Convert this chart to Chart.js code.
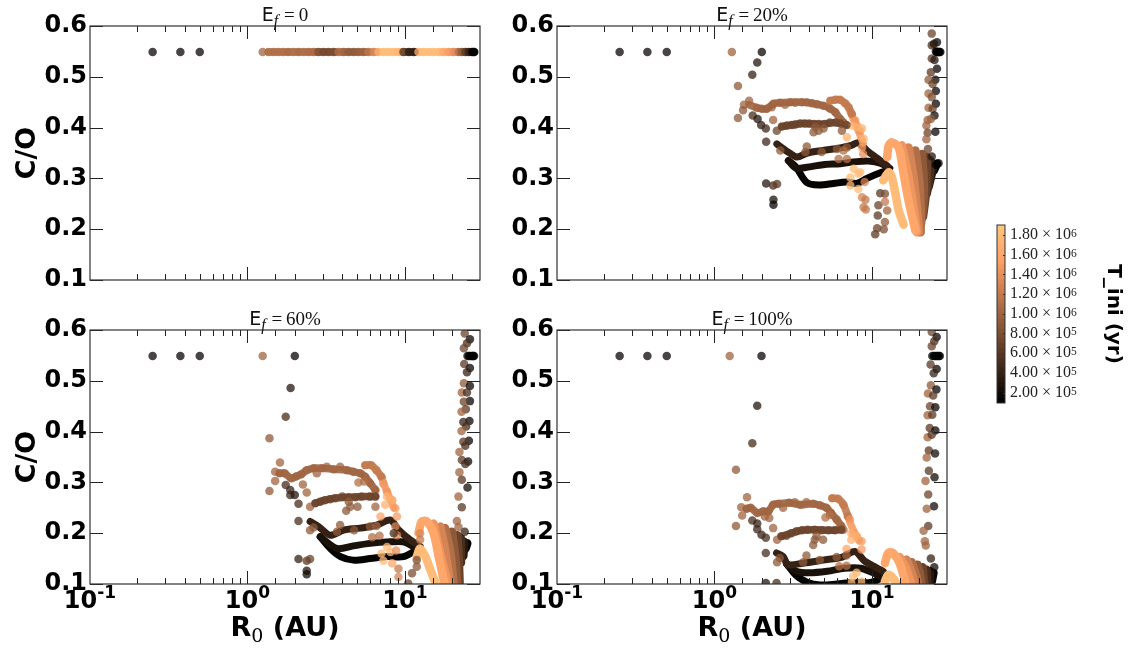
<!DOCTYPE html>
<html>
<head>
<meta charset="utf-8">
<script src="https://cdn.jsdelivr.net/npm/chart.js@4"></script>
<style>
    html, body { margin: 0; padding: 0; background: #fff; }
    body { position: relative; width: 1132px; height: 651px; overflow: hidden; }
    canvas { position: absolute; }
    .title { position: absolute; width: 390px; text-align: center; font: 19px "Liberation Serif", serif; color: #111; line-height: 20px; white-space: nowrap; }
    .title b { font: 19px "DejaVu Sans", sans-serif; }
    .title sub { font: italic 16px "Liberation Serif", serif; line-height: 0; margin-right: 2px; }
    .xlabel { position: absolute; width: 390px; text-align: center; font: bold 27px "DejaVu Sans", sans-serif; color: #000; line-height: 32px; white-space: nowrap; }
    .xlabel sub { font: 19px "DejaVu Serif", serif; line-height: 0; }
</style>
</head>
<body>
<canvas id="ef0" width="490" height="305" style="left:0;top:0"></canvas>
<canvas id="ef20" width="490" height="305" style="left:467px;top:0"></canvas>
<canvas id="ef60" width="490" height="346" style="left:0;top:305px"></canvas>
<canvas id="ef100" width="490" height="346" style="left:467px;top:305px"></canvas>
<canvas id="cbar" width="140" height="210" style="left:990px;top:210px"></canvas>
<div class="title" style="left:90px;top:3px"><b>E</b><sub>f</sub>&#8201;=&#8201;0</div>
<div class="title" style="left:557px;top:3px"><b>E</b><sub>f</sub>&#8201;=&#8201;20%</div>
<div class="title" style="left:90px;top:307px"><b>E</b><sub>f</sub>&#8201;=&#8201;60%</div>
<div class="title" style="left:557px;top:307px"><b>E</b><sub>f</sub>&#8201;=&#8201;100%</div>
<div class="xlabel" style="left:90px;top:611px">R<sub>0</sub> (AU)</div>
<div class="xlabel" style="left:557px;top:611px">R<sub>0</sub> (AU)</div>
<script>
// T_ini is kept in units of 1e5 yr

// E_f = 0
const ef0R = [0.25, 0.375, 0.498, 1.25, 1.36, 1.46, 1.57, 1.69, 1.82, 1.96, 2.11, 2.27, 2.44, 2.63, 2.83, 3.04, 3.27, 3.52, 3.79, 4.07, 4.38, 4.72, 5.07, 5.46, 5.88, 6.33, 6.8, 7.3, 7.87, 8.47, 9.1, 9.8, 10.6, 11.4, 12.2, 13.1, 14.2, 15.2, 16.4, 17.6, 19, 20.4, 22, 23, 24.2, 25.4, 26.6, 27.2, 27.6];
const ef0CO = [0.549, 0.549, 0.549, 0.549, 0.549, 0.549, 0.549, 0.549, 0.549, 0.549, 0.549, 0.549, 0.549, 0.549, 0.549, 0.549, 0.549, 0.549, 0.549, 0.549, 0.549, 0.549, 0.549, 0.549, 0.549, 0.549, 0.549, 0.549, 0.549, 0.549, 0.549, 0.549, 0.549, 0.549, 0.549, 0.549, 0.549, 0.549, 0.549, 0.549, 0.549, 0.549, 0.549, 0.549, 0.549, 0.549, 0.549, 0.549, 0.549];
const ef0T = [1.5, 1.5, 1.5, 10, 11, 11, 11, 11, 10.5, 11, 10.5, 11, 10.5, 10.5, 8, 7.5, 7.5, 8, 11, 10, 9, 9, 9.5, 10, 12, 13, 17, 18, 18, 18, 17, 5, 4, 3.5, 17, 18, 18, 18, 18, 16, 15, 14, 11, 9, 6, 4, 2, 1.2, 1];
const ef0BandR = [[1.36, 2.76], [2.76, 3.6], [3.6, 4.07], [4.07, 5.75], [5.75, 6.63], [6.63, 9.6], [9.6, 10.6], [10.6, 11.6], [11.6, 16.7], [16.7, 19], [19, 20.4], [20.4, 22], [22, 23], [23, 24.2], [24.2, 25.4], [25.4, 26.6], [26.6, 27.6]];
const ef0BandCO = [[0.549, 0.549], [0.549, 0.549], [0.549, 0.549], [0.549, 0.549], [0.549, 0.549], [0.549, 0.549], [0.549, 0.549], [0.549, 0.549], [0.549, 0.549], [0.549, 0.549], [0.549, 0.549], [0.549, 0.549], [0.549, 0.549], [0.549, 0.549], [0.549, 0.549], [0.549, 0.549], [0.549, 0.549]];
const ef0BandT = [10.5, 7.5, 11, 9, 13, 18, 5, 3.5, 18, 16, 14, 11, 9, 6, 4, 2, 1];

// E_f = 20%
const ef20R = [
    0.25, 0.375, 0.498, 1.29, 2.0, 1.87, 1.74, 1.41, 1.66, 1.54, 1.52, 1.41, 1.75, 1.88, 1.98, 2.12, 2.13, 2.36,
    2.13, 2.36, 2.5, 2.37, 2.37,
    1.86, 2.0, 2.15, 2.31,
    2.37, 2.61, 2.81, 3.03, 3.26, 3.59, 3.86, 4.16, 4.47, 4.93, 5.44, 5.86, 6.29, 6.6,
    5.44, 5.86, 6.29, 6.76, 7.11, 7.47, 7.84, 8.03, 8.43,
    7.47, 8.03, 8.66, 8.86, 8.66, 8.8, 6.94,
    2.49, 2.68, 2.88, 3.1, 3.26, 3.5, 3.75, 4, 4.3, 4.6, 5, 5.4, 5.9, 6.3, 6.9,
    4.26, 4.37, 4.93, 4.59, 6.45,
    3.86, 3.78, 4.8, 6, 6.94, 6.6, 6.15, 6.94, 2.62,
    7.67, 8.2, 7.3, 7.3, 8.43, 8.2, 9, 8.66, 9.1, 8.86, 9.15,
    10.5, 10.8, 11.9, 12.1, 10.9, 11, 12.5, 11.3, 12.1, 12.1,
    24, 25.9, 24, 24.8, 25.5, 26, 26.6, 27.2, 24, 25, 25.9, 23.7, 25.3, 22.9, 24.3, 25.5, 22.9, 24, 25.5, 22.9, 24.3, 25, 23.7, 22.6, 22.2, 22.6, 25.3, 22.2, 22.7, 24,
    25.5, 26.5, 25.8, 26.4, 26.9
];
const ef20CO = [
    0.549, 0.549, 0.549, 0.549, 0.549, 0.528, 0.504, 0.482, 0.453, 0.445, 0.434, 0.419, 0.424, 0.417, 0.405, 0.398, 0.372, 0.415,
    0.29, 0.286, 0.289, 0.258, 0.248,
    0.439, 0.437, 0.437, 0.44,
    0.447, 0.449, 0.445, 0.45, 0.449, 0.45, 0.45, 0.448, 0.446, 0.443, 0.437, 0.43, 0.417, 0.41,
    0.453, 0.455, 0.455, 0.448, 0.44, 0.427, 0.414, 0.404, 0.394,
    0.404, 0.401, 0.398, 0.378, 0.361, 0.348, 0.381,
    0.394, 0.402, 0.404, 0.405, 0.406, 0.408, 0.408, 0.408, 0.407, 0.407, 0.407, 0.41, 0.41, 0.408, 0.405,
    0.391, 0.401, 0.398, 0.394, 0.394,
    0.363, 0.352, 0.352, 0.358, 0.361, 0.355, 0.338, 0.338, 0.355,
    0.319, 0.309, 0.302, 0.286, 0.312, 0.279, 0.293, 0.263, 0.258, 0.243, 0.239,
    0.19, 0.202, 0.2, 0.214, 0.227, 0.247, 0.237, 0.271, 0.27, 0.254,
    0.585, 0.568, 0.562, 0.565, 0.55, 0.549, 0.549, 0.549, 0.536, 0.533, 0.516, 0.509, 0.494, 0.494, 0.486, 0.472, 0.467, 0.46, 0.447, 0.439, 0.437, 0.424, 0.417, 0.415, 0.404, 0.39, 0.392, 0.377, 0.358, 0.343,
    0.327, 0.33, 0.549, 0.549, 0.549
];
const ef20T = [
    1.5, 1.5, 1.5, 10, 1.5, 3, 4, 9, 10, 10, 9, 9, 5, 3, 3.5, 4.5, 4.5, 10,
    3, 5, 6, 2.5, 1.5,
    10, 10, 10, 10,
    10, 10, 10, 10, 10, 10, 10, 10, 10, 10, 10, 10, 10, 10,
    12, 12, 12, 12, 12, 12, 14.5, 14.5, 14.5,
    17, 17, 17, 17, 15, 14, 17,
    7, 7, 7, 7, 7, 7, 7, 7, 7, 7, 7, 7, 7, 7, 7,
    9, 9, 9, 9, 9,
    9, 9, 9, 9, 9, 11, 11, 11, 9,
    18, 18, 18, 18, 18, 18, 13, 13, 12, 12, 12,
    6, 7, 8, 9, 6, 7, 10, 6, 8, 12,
    7, 1.5, 5, 3, 1.5, 1, 1, 1, 6, 3, 1.5, 6, 1.5, 9, 7, 1.5, 10, 8, 1.5, 10, 7, 2, 9, 10, 10, 7, 1.5, 10, 7, 3,
    1, 1, 1, 1, 1
];
const ef20BandR = [
    [1.66, 1.86, 2.0, 2.15, 2.37, 2.61, 3.03, 3.59, 4.16, 4.93, 5.44, 5.86, 6.29, 6.6],
    [5.44, 5.86, 6.29, 6.76, 7.11, 7.47],
    [7.3, 7.8, 8.3, 8.8],
    [2.68, 3.1, 3.59, 4.3, 5, 5.9, 6.9]
];
const ef20BandCO = [
    [0.445, 0.439, 0.437, 0.437, 0.447, 0.449, 0.45, 0.45, 0.448, 0.443, 0.437, 0.43, 0.417, 0.41],
    [0.453, 0.455, 0.455, 0.448, 0.44, 0.427],
    [0.43, 0.41, 0.39, 0.37],
    [0.402, 0.405, 0.408, 0.407, 0.407, 0.41, 0.405]
];
const ef20BandT = [10, 12, 15, 7];
const ef20TrackR = [
    [11.8, 12.8, 13.4, 14.1, 14.8, 15.9],
    [12.5, 12.8, 13.4, 14.8, 15.9, 17.1, 18.9],
    [15.5, 17.1, 18.4, 19.3],
    [17.1, 18.4, 19.3, 19.9],
    [18.9, 19.9, 20.4, 20.4],
    [20.8, 21.3, 21.3, 20.5],
    [22.3, 22.3, 21.9, 21.1],
    [23.5, 23.3, 22.3],
    [24.7, 24, 22.9],
    [25.9, 24.7],
    [2.49, 2.75, 3.0, 3.35, 3.9, 4.9, 6.3, 7.4, 8.2, 9.3, 11.3, 12.5],
    [2.95, 3.3, 3.86, 4.9, 6.3, 8, 9.5, 11.3, 13],
    [2.95, 3.3, 3.86, 4.6, 5.7, 6.9, 8, 9.3, 11.3, 12.5]
];
const ef20TrackCO = [
    [0.296, 0.312, 0.302, 0.27, 0.237, 0.209],
    [0.342, 0.365, 0.371, 0.361, 0.309, 0.256, 0.197],
    [0.365, 0.302, 0.243, 0.194],
    [0.361, 0.302, 0.243, 0.194],
    [0.355, 0.302, 0.243, 0.194],
    [0.348, 0.302, 0.256, 0.21],
    [0.342, 0.309, 0.263, 0.224],
    [0.335, 0.302, 0.27],
    [0.329, 0.309, 0.283],
    [0.329, 0.315],
    [0.368, 0.358, 0.35, 0.342, 0.35, 0.355, 0.36, 0.365, 0.37, 0.355, 0.335, 0.325],
    [0.335, 0.32, 0.322, 0.327, 0.329, 0.333, 0.334, 0.33, 0.32],
    [0.335, 0.322, 0.292, 0.287, 0.29, 0.293, 0.29, 0.3, 0.311, 0.315]
];
const ef20TrackT = [18, 16, 14.5, 13, 11, 9, 7, 5, 3, 1.5, 4, 2.5, 1.2];

// E_f = 60%
const ef60R = [
    0.25, 0.375, 0.498, 1.25, 2.0, 1.88, 1.75, 1.38, 1.61, 1.5, 1.5, 1.38, 1.75, 1.87, 1.87, 2, 2.11, 2.11, 2.38, 2.25,
    2.11, 2.38, 2.5, 2.38, 2.38,
    1.6, 1.72, 1.9, 2.05, 2.2,
    2.38, 2.63, 2.76, 2.97, 3.19, 3.52, 3.88, 4.28, 4.7, 5.2, 5.6, 6, 6.5,
    5.6, 6.1, 6.6, 7.1, 5.07, 5.5,
    7.3, 7.7, 8.3, 7.7, 8.3, 7.5, 7, 8.7, 8.9, 8.7, 8.9, 6.5,
    2.5, 2.7, 2.9, 3.1, 3.35, 3.6, 4, 4.4, 4.85, 5.3, 6, 6.5,
    4.24, 4.5, 5, 4.4,
    3.88, 3.7, 4.76, 6, 6.6, 6.2, 6.9, 2.63, 2.5, 8.5,
    7.7, 8.1, 7.1, 7.3, 8.3, 8.8, 9.1, 9.1,
    11.9, 11.9, 11.1, 10.5, 12.5, 12.5,
    24, 25.9, 24.8, 23.7, 25, 26, 27, 27.5, 23.8, 25.9, 24.8, 23.7, 25.9, 23, 24.8, 25.9, 23.7, 24.4, 22.9, 25.7, 23.5, 24.5, 22.9, 25.5, 23.5, 24.2, 22.2, 23, 25.2, 24.2, 22.2, 23, 25, 21.9, 23, 21.4, 21.9, 24,
    25.5, 26.5, 27.2
];
const ef60CO = [
    0.549, 0.549, 0.549, 0.549, 0.549, 0.486, 0.429, 0.387, 0.339, 0.321, 0.303, 0.283, 0.295, 0.285, 0.275, 0.275, 0.258, 0.224, 0.28, 0.296,
    0.149, 0.146, 0.149, 0.126, 0.119,
    0.318, 0.318, 0.308, 0.312, 0.316,
    0.324, 0.328, 0.318, 0.328, 0.331, 0.326, 0.331, 0.324, 0.321, 0.318, 0.311, 0.299, 0.285,
    0.334, 0.334, 0.324, 0.311, 0.3, 0.302,
    0.298, 0.282, 0.265, 0.272, 0.265, 0.256, 0.233, 0.249, 0.233, 0.213, 0.196, 0.252,
    0.252, 0.259, 0.262, 0.265, 0.267, 0.269, 0.272, 0.271, 0.271, 0.272, 0.272, 0.272,
    0.244, 0.252, 0.252, 0.262,
    0.216, 0.203, 0.206, 0.213, 0.214, 0.192, 0.195, 0.211, 0.206, 0.2,
    0.173, 0.163, 0.16, 0.146, 0.141, 0.166, 0.114, 0.13,
    0.147, 0.134, 0.121, 0.101, 0.2, 0.187,
    0.593, 0.582, 0.574, 0.564, 0.549, 0.549, 0.549, 0.549, 0.533, 0.525, 0.517, 0.495, 0.49, 0.477, 0.477, 0.46, 0.459, 0.444, 0.439, 0.421, 0.419, 0.41, 0.401, 0.382, 0.38, 0.372, 0.36, 0.344, 0.341, 0.336, 0.32, 0.305, 0.29, 0.272, 0.251, 0.224, 0.212, 0.203,
    0.549, 0.549, 0.549
];
const ef60T = [
    1.5, 1.5, 1.5, 10, 1.5, 3, 5, 9, 10, 10, 10, 9, 5, 4, 4.5, 3, 5, 5, 10, 10,
    4, 6, 7, 3, 2,
    10, 10, 10, 10, 10,
    10, 10, 10, 10, 10, 10, 10, 10, 10, 10, 10, 10, 10,
    12, 12, 12, 12, 11, 11,
    14.5, 14.5, 14.5, 17, 17, 17, 16, 15, 15, 13, 13, 10,
    10, 7, 7, 7, 7, 7, 7, 7, 7, 7, 7, 7,
    9, 9, 9, 9,
    9, 9, 9, 9, 10, 11, 11, 9, 9, 5,
    18, 18, 18, 18, 16, 14, 13, 12,
    8, 9, 8, 7, 13, 12,
    7, 1.5, 5, 7, 1, 1, 1, 1, 6, 1.5, 4, 9, 1.5, 10, 5, 1.5, 7, 6, 10, 1.5, 4, 5, 10, 1.5, 6, 5, 10, 6, 1.5, 5, 10, 6, 2, 10, 6, 10, 10, 4,
    1, 1, 1
];
const ef60BandR = [
    [1.6, 1.72, 1.9, 2.05, 2.2, 2.38, 2.63, 2.97, 3.52, 4.28, 4.7, 5.2, 5.6, 6, 6.5],
    [5.6, 6.1, 6.6, 7.1],
    [7.1, 7.5, 8, 8.5],
    [2.7, 3.1, 3.6, 4.4, 5.3, 6, 6.5]
];
const ef60BandCO = [
    [0.318, 0.318, 0.308, 0.312, 0.316, 0.324, 0.328, 0.328, 0.326, 0.324, 0.321, 0.318, 0.311, 0.299, 0.285],
    [0.334, 0.334, 0.324, 0.311],
    [0.311, 0.29, 0.27, 0.25],
    [0.259, 0.265, 0.269, 0.271, 0.272, 0.272, 0.272]
];
const ef60BandT = [10, 12, 15, 7];
const ef60TrackR = [
    [11.9, 12.5, 13.5, 14.5, 16],
    [12.2, 12.8, 13.8, 15.2, 16.4, 18],
    [15.2, 16.4, 17.6, 19],
    [16.8, 18, 19.5],
    [18, 19.5, 20.4],
    [19.9, 20.9, 21.5],
    [21.5, 22, 22.3],
    [22.7, 22.7],
    [23.8, 23.5],
    [24.9, 24.3],
    [2.5, 2.83, 3.36, 4.07, 5.2, 6.63, 8.07, 9.1, 10.8, 12.5],
    [2.9, 3.7, 4.7, 6, 8.07, 9.8, 11.9],
    [2.9, 3.36, 3.9, 4.7, 6, 7.7, 9.8, 11.9]
];
const ef60TrackCO = [
    [0.154, 0.17, 0.154, 0.128, 0.095],
    [0.2, 0.223, 0.223, 0.2, 0.154, 0.095],
    [0.219, 0.173, 0.134, 0.095],
    [0.213, 0.167, 0.095],
    [0.21, 0.16, 0.095],
    [0.203, 0.154, 0.095],
    [0.196, 0.147, 0.095],
    [0.19, 0.142],
    [0.183, 0.155],
    [0.18, 0.17],
    [0.223, 0.213, 0.196, 0.206, 0.21, 0.216, 0.226, 0.207, 0.187, 0.174],
    [0.193, 0.17, 0.175, 0.18, 0.183, 0.183, 0.17],
    [0.193, 0.17, 0.154, 0.147, 0.15, 0.154, 0.154, 0.167]
];
const ef60TrackT = [18, 16, 14.5, 13, 11, 9, 7, 5, 3, 1.5, 4, 2.5, 1.2];

// E_f = 100%
const ef100R = [
    0.25, 0.375, 0.498, 1.25, 1.99, 1.87, 1.74, 1.37, 1.61, 1.48, 1.5, 1.37, 1.74, 1.87, 1.87, 1.99, 2.12, 2.12, 2.36, 2.23,
    2.12, 2.48,
    1.6, 1.7, 1.87, 2.04, 2.2, 2.09,
    2.36, 2.56, 2.73, 2.98, 3.24, 3.52, 3.84, 4.24, 4.67, 5.15, 5.5, 5.97, 6.4,
    5.6, 6.1, 6.6, 7.05, 5.07, 5.4,
    7.25, 7.6, 8, 7.4, 8, 7.4, 6.9, 8.6, 8.6, 6.6,
    2.5, 2.66, 2.87, 3.08, 3.32, 3.6, 3.9, 4.34, 4.8, 5.3, 5.82, 6.4,
    4.24, 4.45, 4.9, 4.34,
    3.84, 3.66, 4.67, 5.97, 6.9, 6.2, 6.9, 2.6, 2.5,
    7.6, 8, 7.4, 8.6,
    24, 25.8, 24.9, 24, 24.2, 25.3, 26.2, 27, 23.6, 25.8, 24.7, 23.7, 25.7, 22.7, 24.5, 23.4, 25.3, 22.6, 24.2, 23.3, 25.3, 22.6, 24, 23, 25.2, 22.3, 23, 25, 21.9, 22.8, 24.8, 22.3, 22.8, 21.3, 21.7, 22, 23.7, 24.9,
    24.8, 25.8, 26.6
];
const ef100CO = [
    0.549, 0.549, 0.549, 0.549, 0.549, 0.451, 0.377, 0.325, 0.271, 0.251, 0.235, 0.214, 0.225, 0.219, 0.208, 0.197, 0.191, 0.161, 0.21, 0.23,
    0.102, 0.102,
    0.248, 0.25, 0.24, 0.243, 0.243, 0.233,
    0.256, 0.258, 0.25, 0.26, 0.261, 0.256, 0.261, 0.258, 0.255, 0.25, 0.24, 0.227, 0.214,
    0.269, 0.268, 0.256, 0.233, 0.231, 0.236,
    0.227, 0.2, 0.194, 0.2, 0.194, 0.187, 0.169, 0.184, 0.168, 0.207,
    0.187, 0.194, 0.195, 0.2, 0.204, 0.206, 0.207, 0.207, 0.206, 0.206, 0.206, 0.207,
    0.177, 0.194, 0.187, 0.187,
    0.156, 0.143, 0.147, 0.153, 0.156, 0.135, 0.136, 0.151, 0.143,
    0.115, 0.122, 0.102, 0.105,
    0.596, 0.586, 0.578, 0.568, 0.549, 0.549, 0.549, 0.549, 0.532, 0.523, 0.515, 0.491, 0.483, 0.475, 0.471, 0.45, 0.448, 0.432, 0.433, 0.407, 0.402, 0.389, 0.394, 0.363, 0.357, 0.349, 0.323, 0.31, 0.303, 0.276, 0.253, 0.248, 0.214, 0.205, 0.184, 0.176, 0.15, 0.133,
    0.549, 0.549, 0.549
];
const ef100T = [
    1.5, 1.5, 1.5, 10, 1.5, 3, 5, 9, 10, 10, 10, 9, 5, 4, 4.5, 4, 5, 5, 10, 10,
    3, 5,
    10, 10, 10, 10, 10, 10,
    10, 10, 10, 10, 10, 10, 10, 10, 10, 10, 10, 10, 10,
    12, 12, 12, 12, 11, 11,
    14.5, 14.5, 14.5, 17, 17, 17, 16, 15, 15, 10,
    10, 7, 7, 7, 7, 7, 7, 7, 7, 7, 7, 7,
    9, 9, 9, 9,
    9, 9, 9, 9, 10, 11, 11, 9, 9,
    18, 18, 18, 18,
    7, 1.5, 5, 7, 1, 1, 1, 1, 6, 1.5, 4, 9, 1.5, 10, 6, 7, 1.5, 10, 6, 6, 1.5, 10, 6, 6, 2, 10, 6, 2, 10, 7, 2, 10, 6, 10, 10, 10, 4, 2,
    1, 1, 1
];
const ef100BandR = [
    [1.6, 1.7, 1.87, 2.04, 2.2, 2.36, 2.56, 2.98, 3.52, 4.24, 4.67, 5.15, 5.5, 5.97, 6.4],
    [5.6, 6.1, 6.6, 7.05],
    [7.05, 7.4, 7.8, 8.3],
    [2.66, 3.08, 3.6, 4.34, 5.3, 5.82, 6.4]
];
const ef100BandCO = [
    [0.248, 0.25, 0.24, 0.243, 0.243, 0.256, 0.258, 0.26, 0.256, 0.258, 0.255, 0.25, 0.24, 0.227, 0.214],
    [0.269, 0.268, 0.256, 0.233],
    [0.233, 0.215, 0.2, 0.185],
    [0.194, 0.2, 0.206, 0.207, 0.206, 0.206, 0.207]
];
const ef100BandT = [10, 12, 15, 7];
const ef100TrackR = [
    [12.1, 12.7, 13.6, 14.7],
    [12.1, 12.7, 13.6, 15, 16.6],
    [15, 16.6, 17.9],
    [16.6, 17.9, 18.8],
    [17.9, 19.2, 19.8],
    [19.5, 20.3, 20.8],
    [21, 21.6],
    [22.3, 22.5],
    [23.5, 23.3],
    [24.6, 24],
    [2.48, 2.73, 2.94, 3.66, 4.9, 6.5, 7.8, 9, 10.7, 11.8],
    [2.87, 3.3, 4, 5.2, 6.7, 8.5, 10.5, 12],
    [2.87, 3.3, 3.9, 4.7, 6, 7.6, 9.8, 11.5]
];
const ef100TrackCO = [
    [0.105, 0.118, 0.112, 0.095],
    [0.141, 0.161, 0.161, 0.141, 0.095],
    [0.153, 0.128, 0.095],
    [0.148, 0.122, 0.095],
    [0.143, 0.115, 0.095],
    [0.138, 0.115, 0.095],
    [0.133, 0.095],
    [0.128, 0.095],
    [0.125, 0.095],
    [0.122, 0.105],
    [0.161, 0.154, 0.138, 0.141, 0.147, 0.153, 0.164, 0.145, 0.132, 0.125],
    [0.14, 0.125, 0.122, 0.125, 0.131, 0.131, 0.12, 0.11],
    [0.14, 0.117, 0.103, 0.098, 0.1, 0.103, 0.103, 0.112]
];
const ef100TrackT = [18, 16, 14.5, 13, 11, 9, 7, 5, 3, 1.5, 4, 2.5, 1.2];

// Colour bar
const cbarLevels = [0.95, 1.5, 2, 2.5, 3, 3.5, 4, 4.5, 5, 5.5, 6, 6.5, 7, 7.5, 8, 8.5, 9, 9.5, 10, 10.5, 11, 11.5, 12, 12.5, 13, 13.5, 14, 14.5, 15, 15.5, 16, 16.5, 17, 17.5, 18, 18.5, 19];
const cbarTicks = [2, 4, 6, 8, 10, 12, 14, 16, 18];
const cbarLabels = ['2.00 × 10', '4.00 × 10', '6.00 × 10', '8.00 × 10', '1.00 × 10', '1.20 × 10', '1.40 × 10', '1.60 × 10', '1.80 × 10'];
const cbarExponents = ['5', '5', '5', '5', '6', '6', '6', '6', '6'];

const coTicks = [0.1, 0.2, 0.3, 0.4, 0.5, 0.6];
const rDecades = [0.1, 1, 10];
const rExponents = ['-1', '0', '1'];

const boldFont = { family: '"DejaVu Sans"', weight: 'bold', size: 24 };

// matplotlib copper map
function copper(t, alpha) {
    const v = Math.min(1, Math.max(0, (t - 0.95) / (19 - 0.95)));
    const r = Math.round(255 * Math.min(1, 1.25 * v));
    const g = Math.round(255 * 0.7812 * v);
    const b = Math.round(255 * 0.4975 * v);
    return `rgba(${r}, ${g}, ${b}, ${alpha})`;
}

function isDecade(v) {
    const l = Math.log10(v);
    return Math.abs(l - Math.round(l)) < 1e-6;
}

// Frame and inward ticks on all four sides, as in matplotlib
const frameTicks = {
    id: 'frameTicks',
    afterDatasetsDraw(chart) {
        const { ctx, chartArea: a, scales } = chart;
        ctx.save();
        ctx.strokeStyle = '#222';
        ctx.lineWidth = 1;
        ctx.beginPath();
        scales.x.ticks.forEach(t => {
            if (t.value <= 0.1 || t.value >= 30) return;
            const px = Math.round(scales.x.getPixelForValue(t.value)) + 0.5;
            const len = isDecade(t.value) ? 13 : 6;
            ctx.moveTo(px, a.bottom);
            ctx.lineTo(px, a.bottom - len);
            ctx.moveTo(px, a.top);
            ctx.lineTo(px, a.top + len);
        });
        scales.y.ticks.forEach(t => {
            const py = Math.round(scales.y.getPixelForValue(t.value)) + 0.5;
            ctx.moveTo(a.left, py);
            ctx.lineTo(a.left + 13, py);
            ctx.moveTo(a.right, py);
            ctx.lineTo(a.right - 13, py);
        });
        ctx.stroke();
        ctx.lineWidth = 1.2;
        ctx.strokeStyle = '#333';
        ctx.strokeRect(a.left, a.top, a.right - a.left, a.bottom - a.top);
        ctx.restore();
    }
};

// 10^n labels, exponent set at its own size the way mathtext does it
const decadeLabels = {
    id: 'decadeLabels',
    afterDraw(chart) {
        const { ctx, chartArea: a, scales } = chart;
        ctx.save();
        ctx.fillStyle = '#000';
        ctx.textBaseline = 'alphabetic';
        rDecades.forEach((v, i) => {
            const bigFont = 'bold 24px "DejaVu Sans"';
            const supFont = 'bold 17px "DejaVu Sans"';
            ctx.font = bigFont;
            const w = ctx.measureText('10').width;
            ctx.font = supFont;
            const s = ctx.measureText(rExponents[i]).width;
            const left = scales.x.getPixelForValue(v) - (w + s) / 2;
            ctx.font = bigFont;
            ctx.fillText('10', left, a.bottom + 24);
            ctx.font = supFont;
            ctx.fillText(rExponents[i], left + w, a.bottom + 14);
        });
        ctx.restore();
    }
};

function makePanel(id, R, CO, T, bandR, bandCO, bandT, trackR, trackCO, trackT, bottomRow, leftCol) {
    const datasets = [{
        data: R.map((r, i) => ({ x: r, y: CO[i] })),
        backgroundColor: T.map(t => copper(t, 0.75)),
        borderWidth: 0,
        pointRadius: 4.25
    }];
    // bands sit under the dots where the original markers run together
    bandR.forEach((rs, k) => {
        datasets.push({
            data: rs.map((r, i) => ({ x: r, y: bandCO[k][i] })),
            showLine: true,
            tension: 0.3,
            borderColor: copper(bandT[k], 0.9),
            borderWidth: 7.5,
            borderCapStyle: 'round',
            borderJoinStyle: 'round',
            pointRadius: 0
        });
    });
    trackR.forEach((rs, k) => {
        datasets.push({
            data: rs.map((r, i) => ({ x: r, y: trackCO[k][i] })),
            showLine: true,
            tension: 0.3,
            borderColor: copper(trackT[k], 1),
            // the three dark tracks are a little thinner than the fan arcs
            borderWidth: k >= 10 ? 7 : 8.5,
            borderCapStyle: 'round',
            borderJoinStyle: 'round',
            pointRadius: 0
        });
    });

    new Chart(document.getElementById(id), {
        type: 'scatter',
        data: { datasets },
        plugins: bottomRow ? [frameTicks, decadeLabels] : [frameTicks],
        options: {
            responsive: false,
            animation: false,
            layout: { padding: { top: bottomRow ? 25 : 26, right: 10 } },
            plugins: { legend: { display: false }, tooltip: { enabled: false } },
            scales: {
                x: {
                    type: 'logarithmic',
                    min: 0.1,
                    max: 30,
                    grid: { display: false, drawTicks: false },
                    border: { display: false },
                    afterFit(scale) { scale.height = bottomRow ? 67 : 25; },
                    ticks: { display: false, autoSkip: false }
                },
                y: {
                    min: 0.1,
                    max: 0.6,
                    grid: { display: false, drawTicks: false },
                    border: { display: false },
                    afterFit(scale) { scale.width = 90; },
                    afterBuildTicks(scale) { scale.ticks = coTicks.map(v => ({ value: v })); },
                    ticks: {
                        padding: 3,
                        color: '#000',
                        font: boldFont,
                        callback: v => v.toFixed(1)
                    },
                    title: {
                        display: leftCol,
                        text: 'C/O',
                        color: '#000',
                        font: { family: '"DejaVu Sans"', weight: 'bold', size: 27 },
                        padding: { top: 12, bottom: 0 }
                    }
                }
            }
        }
    });
}

makePanel('ef0', ef0R, ef0CO, ef0T, ef0BandR, ef0BandCO, ef0BandT, [], [], [], false, true);
makePanel('ef20', ef20R, ef20CO, ef20T, ef20BandR, ef20BandCO, ef20BandT, ef20TrackR, ef20TrackCO, ef20TrackT, false, false);
makePanel('ef60', ef60R, ef60CO, ef60T, ef60BandR, ef60BandCO, ef60BandT, ef60TrackR, ef60TrackCO, ef60TrackT, true, true);
makePanel('ef100', ef100R, ef100CO, ef100T, ef100BandR, ef100BandCO, ef100BandT, ef100TrackR, ef100TrackCO, ef100TrackT, true, false);

// Colour bar drawn as floating bars on a linear T_ini axis
const cbarDatasets = cbarLevels.slice(0, -1).map((lo, i) => ({
    data: [[lo, cbarLevels[i + 1]]],
    backgroundColor: copper((lo + cbarLevels[i + 1]) / 2, 1),
    borderWidth: 0,
    barPercentage: 1,
    categoryPercentage: 1,
    grouped: false
}));

const cbarFont = { family: '"Liberation Serif"', size: 16 };

new Chart(document.getElementById('cbar'), {
    type: 'bar',
    data: { labels: ['T_ini'], datasets: cbarDatasets },
    plugins: [{
        id: 'cbarFrame',
        afterDraw(chart) {
            const { ctx, chartArea: a, scales } = chart;
            ctx.save();
            ctx.strokeStyle = '#333';
            ctx.lineWidth = 1;
            ctx.strokeRect(a.left, a.top, a.right - a.left, a.bottom - a.top);
            ctx.beginPath();
            cbarTicks.forEach((v, i) => {
                const py = Math.round(scales.y.getPixelForValue(v)) + 0.5;
                ctx.moveTo(a.right, py);
                ctx.lineTo(a.right - 2, py);
                // exponent after the axis label
                ctx.font = '16px "Liberation Serif"';
                const w = ctx.measureText(cbarLabels[i]).width;
                ctx.font = '11.5px "Liberation Serif"';
                ctx.fillStyle = '#222';
                ctx.textBaseline = 'alphabetic';
                ctx.fillText(cbarExponents[i], a.right + 5 + w, py + 1);
            });
            ctx.stroke();
            ctx.restore();
        }
    }],
    options: {
        responsive: false,
        animation: false,
        layout: { padding: { left: 7, top: 15, bottom: 17 } },
        plugins: { legend: { display: false }, tooltip: { enabled: false } },
        scales: {
            x: { display: false },
            y: {
                position: 'right',
                min: 0.95,
                max: 19,
                grid: { display: false, drawTicks: false },
                border: { display: false },
                afterFit(scale) { scale.width = 125; },
                afterBuildTicks(scale) { scale.ticks = cbarTicks.map(v => ({ value: v })); },
                ticks: {
                    padding: 5,
                    color: '#222',
                    font: cbarFont,
                    callback: v => cbarLabels[cbarTicks.indexOf(v)]
                },
                title: {
                    display: true,
                    text: 'T_ini (yr)',
                    color: '#000',
                    font: { family: '"DejaVu Sans"', weight: 'bold', size: 20 },
                    padding: { top: 5, bottom: 0 }
                }
            }
        }
    }
});
</script>
</body>
</html>
